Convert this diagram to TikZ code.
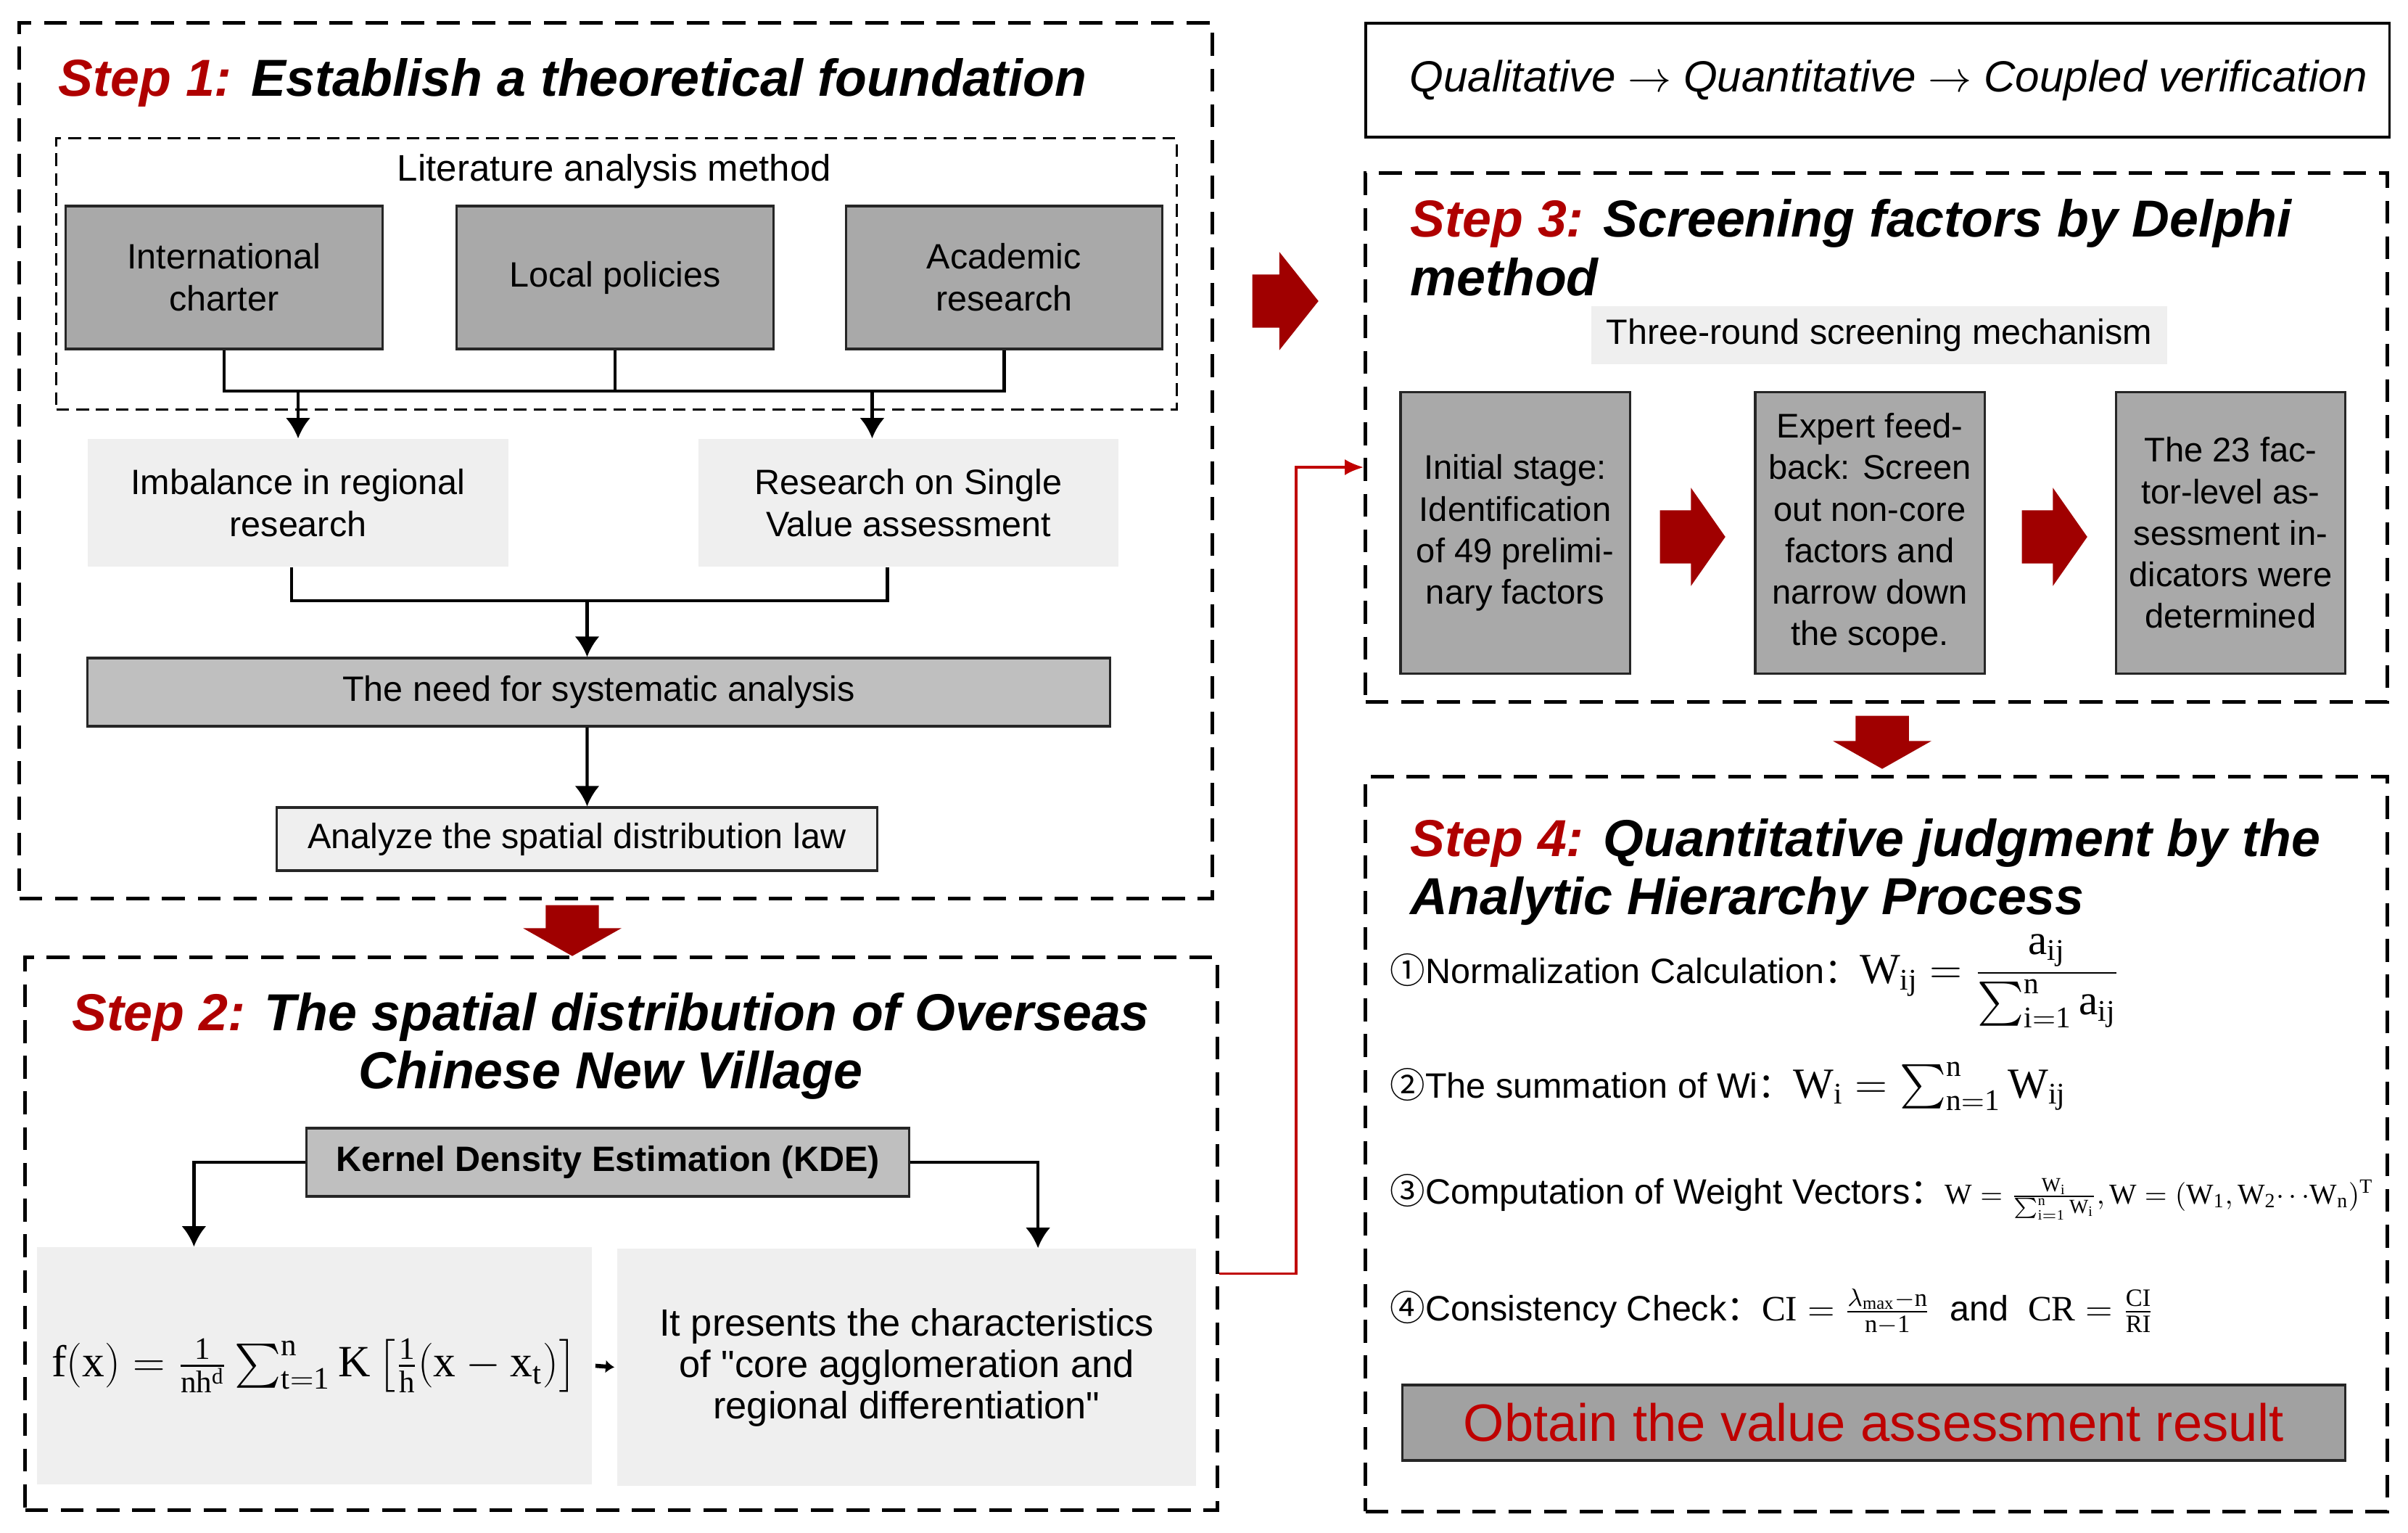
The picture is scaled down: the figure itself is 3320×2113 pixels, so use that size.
\RequirePackage{fix-cm}
\documentclass[tikz,border=0pt]{standalone}
\usepackage{amsmath}
\usepackage{fontspec}
\setmainfont{Liberation Sans}
\setmathrm{Liberation Serif}
\newfontfamily\cjk{Noto Sans CJK SC}
\usetikzlibrary{arrows.meta,shapes.arrows}
\definecolor{stepred}{RGB}{175,0,0}
\definecolor{arrowred}{RGB}{160,0,0}
\definecolor{linered}{RGB}{192,0,0}
\definecolor{resultred}{RGB}{190,0,0}
\definecolor{darkgrey}{RGB}{169,169,169}
\definecolor{midgrey}{RGB}{191,191,191}
\definecolor{lightgrey}{RGB}{239,239,239}
\newcommand{\stepfont}{\fontsize{20.4}{23}\selectfont\bfseries\itshape}
\newcommand{\bodyfont}{\fontsize{13.8}{16.5}\selectfont}
\newcommand{\steptitle}[2]{{\color{stepred}Step #1:} #2}
\newcommand{\circnum}[1]{{\cjk #1}}
\tikzset{
  stepbox/.style={draw, line width=1.4pt, dash pattern=on 9pt off 5pt, inner sep=0pt},
  litbox/.style={draw, line width=0.9pt, dash pattern=on 5pt off 2.8pt, inner sep=0pt},
  titletext/.style={font=\stepfont, inner sep=0pt},
  greybox/.style={draw=black!85, fill=darkgrey, line width=0.9pt, align=center, font=\bodyfont},
  midbox/.style={draw=black!85, fill=midgrey, line width=0.9pt, align=center, font=\bodyfont},
  lightbox/.style={fill=lightgrey, align=center, font=\bodyfont},
  conn/.style={line width=1.2pt, -{Latex[length=0.28cm,width=0.34cm]}},
  plainline/.style={line width=1.2pt},
  redconn/.style={line width=1pt, draw=linered, -{Latex[length=0.26cm,width=0.22cm]}},
  blockarrow/.style={single arrow, fill=arrowred, inner xsep=0pt, inner ysep=0.36cm,
    single arrow head extend=0.31cm, anchor=tail},
}
\begin{document}
\begin{tikzpicture}[x=0.01cm, y=-0.01cm]
\useasboundingbox (0,0) rectangle (3320,2113);

% Step 1
\node[stepbox, minimum width=16.44cm, minimum height=12.06cm] (s1) at (849,635) {};
\node[titletext, anchor=base west] (t1) at (80,133) {\steptitle{1}{Establish a theoretical foundation}};
\node[litbox, minimum width=15.44cm, minimum height=3.73cm] (lit) at (850,377.5) {};
\node[anchor=base, font=\fontsize{14.5}{17}\selectfont] (litlabel) at (847,250) {Literature analysis method};
\node[greybox, minimum width=4.36cm, minimum height=1.97cm] (ic) at (309,382.5) {International\\charter};
\node[greybox, minimum width=4.36cm, minimum height=1.97cm] (lp) at (848,382.5) {Local policies};
\node[greybox, minimum width=4.36cm, minimum height=1.97cm] (ar) at (1384.5,382.5) {Academic\\research};
\node[lightbox, minimum width=5.8cm, minimum height=1.76cm] (imb) at (411,693) {Imbalance in regional\\research};
\node[lightbox, minimum width=5.79cm, minimum height=1.76cm] (res) at (1252.5,693) {Research on Single\\Value assessment};
\node[midbox, minimum width=14.09cm, minimum height=0.94cm] (need) at (825.5,954) {The need for systematic analysis};
\node[lightbox, draw=black!85, line width=0.9pt, minimum width=8.27cm, minimum height=0.87cm] (ana) at (795.5,1156.5) {Analyze the spatial distribution law};
\coordinate (j1) at (0,539);
\coordinate (j2) at (0,828);
\draw[plainline] (ic.south) |- (ar.south |- j1) -- (ar.south);
\draw[plainline] (lp.south) -- (lp.south |- j1);
\draw[conn] (imb.north |- j1) -- (imb.north);
\draw[conn] ([xshift=-0.5cm]res.north |- j1) -- ([xshift=-0.5cm]res.north);
\draw[plainline] ([xshift=-0.09cm]imb.south) |- ([xshift=-0.29cm]res.south |- j2) -- ([xshift=-0.29cm]res.south);
\draw[conn] ([xshift=-0.16cm]need.north |- j2) -- ([xshift=-0.16cm]need.north);
\draw[conn] ([xshift=-0.16cm]need.south) -- ([xshift=0.14cm]ana.north);

\node[blockarrow, rotate=-90, minimum height=0.7cm, single arrow tip angle=121] (down1) at (789,1247) {};

% Step 2
\node[stepbox, minimum width=16.43cm, minimum height=7.61cm] (s2) at (856.5,1700.5) {};
\node[titletext, align=center] (t2) at (842,1442) {\steptitle{2}{The spatial distribution of Overseas}\\Chinese New Village};
\node[midbox, font=\bodyfont\bfseries, minimum width=8.3cm, minimum height=0.94cm] (kde) at (838,1602) {Kernel Density Estimation (KDE)};
\node[lightbox, minimum width=7.65cm, minimum height=3.27cm] (fbox) at (433.5,1882.5)
  {\fontsize{17.5}{20}\selectfont$\rm f(x) = \frac{1}{nh^{d}}\sum_{t=1}^{n} K\left[\frac{1}{h}(x - x_{t})\right]$};
\node[lightbox, font=\fontsize{14.9}{16.2}\selectfont, minimum width=7.98cm, minimum height=3.27cm] (tbox) at (1250,1884.5)
  {It presents the characteristics\\of \textquotedbl core agglomeration and\\regional differentiation\textquotedbl};
\draw[conn] (kde.west) -| ([xshift=-1.66cm]fbox.north);
\draw[conn] (kde.east) -| ([xshift=1.81cm]tbox.north);
\draw[line width=1.6pt, -{Latex[length=0.12cm,width=0.18cm]}] ([xshift=0.04cm]fbox.east) -- ([xshift=-0.03cm]tbox.west);

\node[blockarrow, minimum height=0.91cm, single arrow tip angle=103] (right1) at (1726,415) {};

% top line
\node[draw, line width=1.1pt, minimum width=14.11cm, minimum height=1.57cm, font=\fontsize{17.1}{20}\selectfont\itshape] (qual) at (2588.5,110.5)
  {\hspace{0.3cm}Qualitative $\rightarrow$ Quantitative $\rightarrow$ Coupled verification};

% Step 3
\node[stepbox, minimum width=14.08cm, minimum height=7.28cm] (s3) at (2587,603) {};
\node[titletext, anchor=west, align=left] (t3) at (1944,341) {\steptitle{3}{Screening factors by Delphi}\\method};
\node[lightbox, minimum width=7.94cm, minimum height=0.8cm] (three) at (2591,462) {Three-round screening mechanism};
\node[greybox, font=\fontsize{13.4}{16.3}\selectfont, minimum width=3.16cm, minimum height=3.87cm] (b1) at (2089,734.5)
  {Initial stage:\\Identification\\of 49 prelimi-\\nary factors};
\node[greybox, font=\fontsize{13.4}{16.3}\selectfont, minimum width=3.16cm, minimum height=3.87cm] (b2) at (2578,734.5)
  {Expert feed-\\back: Screen\\out non-core\\factors and\\narrow down\\the scope.};
\node[greybox, font=\fontsize{13.4}{16.3}\selectfont, minimum width=3.16cm, minimum height=3.87cm] (b3) at (3075.5,734.5)
  {The 23 fac-\\tor-level as-\\sessment in-\\dicators were\\determined};
\node[blockarrow, minimum height=0.9cm, single arrow tip angle=110] (right2) at (2288,740) {};
\node[blockarrow, minimum height=0.9cm, single arrow tip angle=110] (right3) at (2787,740) {};
\draw[redconn] ([yshift=-0.55cm]s2.east) -- ++(106,0) |- ([yshift=-0.41cm]s3.west);

\node[blockarrow, rotate=-90, minimum height=0.73cm, single arrow tip angle=121] (down2) at (2595,986) {};

% Step 4
\node[stepbox, minimum width=14.08cm, minimum height=10.12cm] (s4) at (2587,1577) {};
\node[titletext, anchor=west, align=left] (t4) at (1944,1202) {\steptitle{4}{Quantitative judgment by the}\\Analytic Hierarchy Process};
\node[anchor=base west, inner sep=0pt, font=\bodyfont] (item1) at (1916,1356)
  {\circnum{①}Normalization Calculation\circnum{：}{\fontsize{16.8}{20}\selectfont$\rm W_{ij} = \dfrac{a_{ij}}{\textstyle\sum_{i=1}^{n} a_{ij}}$}};
\node[anchor=base west, inner sep=0pt, font=\bodyfont] (item2) at (1916,1513)
  {\circnum{②}The summation of Wi\circnum{：}{\fontsize{16.8}{20}\selectfont$\rm W_{i} = \sum_{n=1}^{n} W_{ij}$}};
\node[anchor=base west, inner sep=0pt, font=\bodyfont] (item3) at (1916,1659)
  {\circnum{③}Computation of Weight Vectors\circnum{：}{\fontsize{11.3}{14}\selectfont$\rm W = \frac{W_{i}}{\sum_{i=1}^{n} W_{i}}, W = (W_{1}, W_{2}{\cdots}W_{n})^{T}$}};
\node[anchor=base west, inner sep=0pt, font=\bodyfont] (item4) at (1916,1820)
  {\circnum{④}Consistency Check\circnum{：}{\fontsize{14}{17}\selectfont$\rm CI = \frac{\lambda_{max}-n}{n-1}$}\ \ and\ \ {\fontsize{14}{17}\selectfont$\rm CR = \frac{CI}{RI}$}};
\node[greybox, fill=darkgrey!95!black, text=resultred, font=\fontsize{20.6}{24}\selectfont, minimum width=12.99cm, minimum height=1.04cm] (result) at (2583.5,1961)
  {Obtain the value assessment result};
\end{tikzpicture}
\end{document}
